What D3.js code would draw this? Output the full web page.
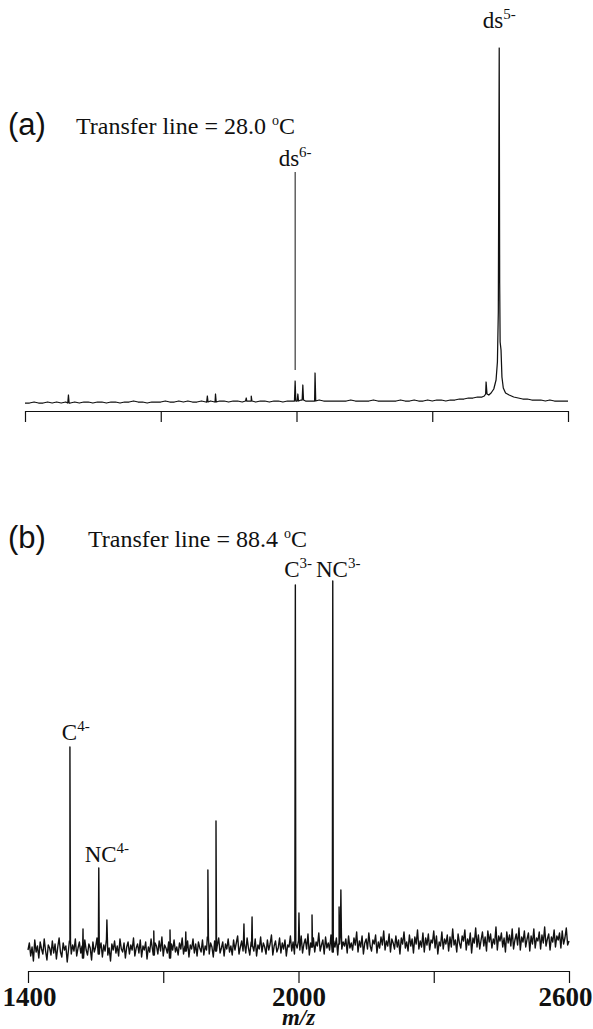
<!DOCTYPE html>
<html>
<head>
<meta charset="utf-8">
<script src="https://cdn.jsdelivr.net/npm/d3@7"></script>
<style>
  body { margin: 0; background: #fff; }
  svg { display: block; }
  .trace { fill: none; stroke: #111; stroke-linejoin: round; }
  .axis path, .axis line { stroke: #111; stroke-width: 1.2; }
  .axis text { font-family: 'Liberation Serif', serif; font-weight: bold; font-size: 27px; fill: #111; }
  .serif { font-family: 'Liberation Serif', 'Times New Roman', serif; fill: #111; }
  .sans { font-family: 'Liberation Sans', Arial, sans-serif; fill: #111; }
</style>
</head>
<body>
<div id="chart"></div>
<script>
// m/z axis
const mzDomain = [1400, 2600];
const tickValues = [1400, 1700, 2000, 2300, 2600];
const tickLabels = [1400, 2000, 2600];

// panel (a): baseline read every 10 m/z (relative counts)
const noiseA = [
  -1, -1, 0, -1, -1, 0, -1, 0, -1, 0,
  -1, 0, -1, 0, 0, -1, 0, 0, -1, 0,
  0, -1, 0, 0, 1, 0, 0, -1, 0, 0,
  0, 1, 0, 0, 1, 0, 1, 0, 0, 1,
  0, 1, 0, 1, 1, 0, 1, 1, 0, 1,
  1, 0, 1, 1, 0, 1, 1, 0, 1, 1,
  1, 2, 1, 1, 1, 2, 1, 1, 1, 1,
  1, 1, 2, 1, 1, 1, 1, 2, 1, 1,
  1, 1, 1, 2, 1, 1, 2, 1, 1, 2,
  1, 2, 2, 1, 2, 2, 3, 3, 4, 4,
  5, 6, 7, 9, 14, 10, 8, 6, 5, 4,
  3, 3, 2, 2, 2, 1, 2, 1, 1, 1,
  1
];
// small peaks in (a): [m/z, height]
const peaksA = [
  [1496, 7], [1803, 6], [1821, 8], [1889, 4], [1900, 6],
  [1997, 21], [2003, 8], [2014, 17], [2041, 29]
];
// ds5- profile (replaces baseline between 2405 and 2495)
const ds5Profile = [
  [2410, 5], [2415, 6], [2418, 8], [2419, 20], [2421, 8], [2425, 7],
  [2430, 9], [2436, 13], [2441, 22], [2444, 40], [2446, 90], [2448, 354],
  [2449, 120], [2450, 60], [2452, 52], [2454, 25], [2457, 14], [2462, 9],
  [2470, 7], [2480, 5], [2490, 4]
];

// panel (b): noisy baseline read every 3 m/z
const noiseB = [
  8, 15, 2, 11, -3, 18, 6, 12, 0, 16, 9, 4, 19, 7, -2, 13, 10, 3, 17, 5,
  14, -1, 11, 20, 6, 1, 15, 8, 12, -4, 9, 17, 4, 13, 7, 19, 2, 10, 16, 5,
  12, 0, 18, 8, 3, 14, 10, -2, 16, 6, 11, 20, 4, 9, 15, 1, 13, 7, 18, 3,
  10, -3, 14, 8, 17, 5, 12, 2, 19, 9, 6, 15, 0, 11, 16, 4, 13, 8, 20, 2,
  10, 14, 5, 18, 1, 12, 8, 16, -1, 11, 6, 19, 9, 3, 15, 12, 4, 17, 7, 21,
  2, 13, 10, 5, 16, 0, 14, 8, 18, 6, 11, 3, 15, 9, 20, 4, 12, 7, 17, 1,
  13, 9, 19, 5, 14, 2, 16, 10, 6, 18, 3, 12, 8, 21, 4, 15, 11, 1, 17, 7,
  13, 20, 5, 10, 16, 2, 14, 9, 19, 6, 12, 3, 18, 8, 15, 22, 4, 11, 17, 7,
  14, 5, 20, 10, 3, 16, 12, 7, 19, 2, 13, 9, 21, 6, 15, 11, 4, 18, 8, 14,
  23, 3, 12, 17, 6, 10, 20, 5, 15, 9, 18, 2, 13, 11, 22, 7, 16, 4, 14, 10,
  17, 8, 22, 5, 14, 19, 9, 24, 3, 15, 11, 20, 6, 16, 12, 25, 7, 13, 18, 4,
  21, 10, 15, 8, 23, 6, 17, 11, 20, 3, 14, 24, 9, 16, 12, 19, 5, 22, 10, 15,
  8, 20, 13, 26, 6, 17, 11, 22, 4, 15, 19, 9, 25, 12, 7, 18, 14, 23, 5, 16,
  10, 21, 13, 27, 8, 17, 12, 24, 6, 19, 15, 9, 22, 11, 18, 4, 20, 14, 26, 10,
  16, 7, 23, 12, 19, 5, 21, 14, 28, 9, 17, 11, 25, 6, 20, 13, 24, 8, 18, 15,
  27, 10, 22, 4, 16, 12, 26, 9, 19, 14, 23, 7, 21, 11, 29, 13, 18, 6, 24, 15,
  10, 22, 17, 28, 8, 19, 13, 25, 5, 20, 15, 30, 11, 23, 9, 18, 26, 12, 21, 7,
  27, 16, 24, 10, 19, 14, 31, 8, 22, 17, 25, 11, 20, 6, 26, 15, 23, 12, 29, 9,
  18, 24, 13, 30, 8, 21, 16, 27, 11, 19, 25, 7, 22, 14, 29, 10, 20, 17, 26, 9,
  23, 15, 31, 12, 19, 24, 8, 21, 16, 28, 11, 22, 18, 25, 10, 27, 14, 20, 30, 13,
  17
];
const peaksB = [
  [1493, 211], [1522, 29], [1557, 90], [1575, 38], [1679, 27], [1715, 28],
  [1750, 26], [1799, 88], [1817, 137], [1879, 34], [1897, 41], [1993, 373],
  [2001, 45], [2030, 43], [2076, 377], [2090, 51], [2094, 68]
];

// peak labels: [text, superscript, m/z, height of baseline]
const labelsA = [['ds', '5-', 2448, 374], ['ds', '6-', 1997, 236]];
const labelsB = [
  ['C', '4-', 1506, 218], ['NC', '4-', 1575, 96],
  ['C', '3-', 1999, 381], ['NC', '3-', 2088, 381]
];
const ds6Marker = [1997, 32, 230];

const width = 593, height = 1029;

const svg = d3.select('#chart').append('svg')
  .attr('width', width)
  .attr('height', height);

const xA = d3.scaleLinear().domain(mzDomain).range([25, 568]);
const yA = d3.scaleLinear().domain([0, 360]).range([402, 42]);
const xB = d3.scaleLinear().domain(mzDomain).range([28, 569]);
const yB = d3.scaleLinear().domain([0, 380]).range([958, 578]);

// merge baseline and peaks into one trace
function buildTrace(noise, peaks, hw, profile) {
  const step = (mzDomain[1] - mzDomain[0]) / (noise.length - 1);
  let pts = noise.map((v, i) => [mzDomain[0] + i * step, v]);
  if (profile) {
    const lo = profile[0][0] - 5, hi = profile[profile.length - 1][0] + 5;
    pts = pts.filter(p => p[0] < lo || p[0] > hi).concat(profile);
  }
  peaks.forEach(([m, h]) => {
    const base = noise[Math.round((m - mzDomain[0]) / step)];
    pts.push([m - hw, base], [m, h], [m + hw, base]);
  });
  return pts.sort((a, b) => a[0] - b[0]);
}

function drawLabels(g, labels, x, y) {
  labels.forEach(([txt, sup, m, h]) => {
    const t = g.append('text')
      .attr('class', 'serif')
      .attr('x', x(m))
      .attr('y', y(h))
      .attr('text-anchor', 'middle')
      .style('font-size', '23px');
    t.append('tspan').text(txt);
    t.append('tspan').attr('dy', -9).style('font-size', '15px').text(sup);
  });
}

function header(g, tag, temp, yBase, xText) {
  g.append('text').attr('class', 'sans')
    .attr('x', 8).attr('y', yBase + 1)
    .style('font-size', '31px')
    .text(tag);
  const t = g.append('text').attr('class', 'serif')
    .attr('x', xText).attr('y', yBase)
    .style('font-size', '24px');
  t.append('tspan').text('Transfer line = ' + temp + ' ');
  t.append('tspan').attr('dy', -9).style('font-size', '14px').text('o');
  t.append('tspan').attr('dy', 9).text('C');
}

// ---- panel (a)
const gA = svg.append('g');
const traceA = buildTrace(noiseA, peaksA, 1.5, ds5Profile);
gA.append('path')
  .attr('class', 'trace')
  .attr('stroke-width', 1.25)
  .attr('d', d3.line().x(d => xA(d[0])).y(d => yA(d[1]))(traceA));

gA.append('line')
  .attr('x1', xA(ds6Marker[0])).attr('x2', xA(ds6Marker[0]))
  .attr('y1', yA(ds6Marker[1])).attr('y2', yA(ds6Marker[2]))
  .attr('stroke', '#111').attr('stroke-width', 1);

drawLabels(gA, labelsA, xA, yA);
header(gA, '(a)', '28.0', 134, 76);

gA.append('g')
  .attr('class', 'axis')
  .attr('transform', 'translate(0,411)')
  .call(d3.axisBottom(xA).tickValues(tickValues).tickSize(11).tickSizeOuter(0).tickFormat(''));

// ---- panel (b)
const gB = svg.append('g');
const traceB = buildTrace(noiseB, peaksB, 1.2);
gB.append('path')
  .attr('class', 'trace')
  .attr('stroke-width', 1.4)
  .attr('d', d3.line().x(d => xB(d[0])).y(d => yB(d[1]))(traceB));

drawLabels(gB, labelsB, xB, yB);
header(gB, '(b)', '88.4', 547, 88);

const axB = gB.append('g')
  .attr('class', 'axis')
  .attr('transform', 'translate(0,971)')
  .call(d3.axisBottom(xB).tickValues(tickValues).tickSize(12).tickSizeOuter(0).tickPadding(4)
    .tickFormat(d => tickLabels.includes(d) ? d : ''));
axB.selectAll('text')
  .attr('fill', '#111')
  .attr('dx', d => d === 2600 ? -4 : (d === 1400 ? 1 : 0));

gB.append('text')
  .attr('class', 'serif')
  .attr('x', xB(2000))
  .attr('y', 1025)
  .attr('text-anchor', 'middle')
  .style('font-size', '23px')
  .style('font-weight', 'bold')
  .style('font-style', 'italic')
  .text('m/z');
</script>
</body>
</html>
